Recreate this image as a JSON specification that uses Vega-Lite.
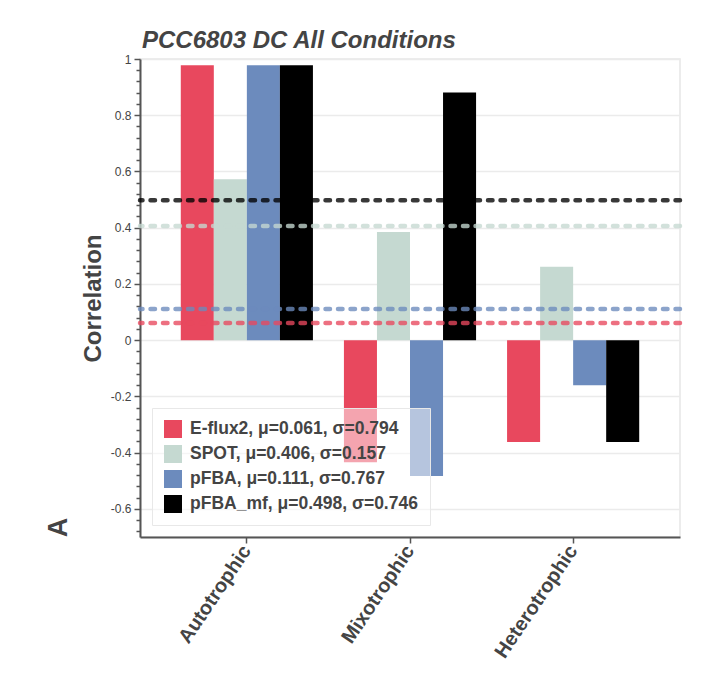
{
  "$schema": "https://vega.github.io/schema/vega-lite/v6.json",
  "width": 540,
  "height": 478,
  "autosize": "none",
  "padding": {"left": 140, "top": 59, "right": 34, "bottom": 136},
  "background": "white",
  "title": {
    "text": "PCC6803 DC All Conditions",
    "anchor": "start",
    "frame": "group",
    "font": "Liberation Sans",
    "fontSize": 24,
    "fontWeight": "bold",
    "fontStyle": "italic",
    "color": "#444444",
    "baseline": "alphabetic",
    "offset": 11,
    "dx": 2,
    "dy": 30
  },
  "config": {
    "font": "Liberation Sans",
    "view": {"stroke": "#e6e6e6", "strokeWidth": 1.5}
  },
  "datasets": {
    "bars": [
      {"condition": "Autotrophic", "method": "E-flux2", "value": 0.978},
      {"condition": "Autotrophic", "method": "SPOT", "value": 0.572},
      {"condition": "Autotrophic", "method": "pFBA", "value": 0.978},
      {"condition": "Autotrophic", "method": "pFBA_mf", "value": 0.978},
      {"condition": "Mixotrophic", "method": "E-flux2", "value": -0.434},
      {"condition": "Mixotrophic", "method": "SPOT", "value": 0.385},
      {"condition": "Mixotrophic", "method": "pFBA", "value": -0.483},
      {"condition": "Mixotrophic", "method": "pFBA_mf", "value": 0.881},
      {"condition": "Heterotrophic", "method": "E-flux2", "value": -0.362},
      {"condition": "Heterotrophic", "method": "SPOT", "value": 0.261},
      {"condition": "Heterotrophic", "method": "pFBA", "value": -0.16},
      {"condition": "Heterotrophic", "method": "pFBA_mf", "value": -0.362}
    ],
    "means": [
      {"method": "E-flux2", "mean": 0.061},
      {"method": "SPOT", "mean": 0.406},
      {"method": "pFBA", "mean": 0.111},
      {"method": "pFBA_mf", "mean": 0.498}
    ]
  },
  "layer": [
    {
      "data": {"name": "bars"},
      "mark": {"type": "bar"},
      "encoding": {
        "x": {
          "field": "condition",
          "type": "nominal",
          "sort": ["Autotrophic", "Mixotrophic", "Heterotrophic"],
          "scale": {"paddingInner": 0.19, "paddingOuter": 0.25},
          "axis": {
            "title": null,
            "grid": false,
            "domainColor": "#555555",
            "domainWidth": 2,
            "tickColor": "#555555",
            "tickSize": 6,
            "tickWidth": 1.5,
            "labelAngle": -56,
            "labelAlign": "right",
            "labelBaseline": "middle",
            "labelFontSize": 20,
            "labelFontWeight": "bold",
            "labelColor": "#444444",
            "labelPadding": 4
          }
        },
        "xOffset": {
          "field": "method",
          "type": "nominal",
          "sort": ["E-flux2", "SPOT", "pFBA", "pFBA_mf"],
          "scale": {"paddingInner": 0, "paddingOuter": 0}
        },
        "y": {
          "field": "value",
          "type": "quantitative",
          "scale": {"domain": [-0.7, 1], "nice": false, "zero": false},
          "axis": {
            "values": [-0.6, -0.4, -0.2, 0, 0.2, 0.4, 0.6, 0.8, 1],
            "labelExpr": "'' + datum.value",
            "grid": true,
            "gridColor": "#ebebeb",
            "gridWidth": 1.5,
            "domainColor": "#555555",
            "domainWidth": 2,
            "tickColor": "#555555",
            "tickSize": 6,
            "tickWidth": 1.5,
            "labelFontSize": 12,
            "labelColor": "#444444",
            "labelPadding": 3,
            "title": "Correlation",
            "titleFontSize": 24,
            "titleFontWeight": "bold",
            "titleColor": "#444444",
            "titlePadding": 5
          }
        },
        "color": {
          "field": "method",
          "type": "nominal",
          "sort": ["E-flux2", "SPOT", "pFBA", "pFBA_mf"],
          "scale": {
            "domain": ["E-flux2", "SPOT", "pFBA", "pFBA_mf"],
            "range": ["#e8485e", "#c5d9d1", "#6c8bbd", "#000000"]
          },
          "legend": {
            "title": null,
            "orient": "bottom-left",
            "offset": 12,
            "fillColor": "rgba(255,255,255,0.5)",
            "strokeColor": "#e8e8e8",
            "padding": 12,
            "symbolType": "square",
            "symbolSize": 324,
            "symbolStrokeWidth": 0,
            "symbolOpacity": 1,
            "labelFontSize": 17.5,
            "labelFontWeight": "bold",
            "labelColor": "#444444",
            "labelOffset": 8,
            "rowPadding": 7,
            "labelLimit": 400,
            "labelExpr": "datum.label == 'E-flux2' ? 'E-flux2, μ=0.061, σ=0.794' : datum.label == 'SPOT' ? 'SPOT, μ=0.406, σ=0.157' : datum.label == 'pFBA' ? 'pFBA, μ=0.111, σ=0.767' : 'pFBA_mf, μ=0.498, σ=0.746'"
          }
        }
      }
    },
    {
      "data": {"name": "means"},
      "mark": {"type": "rule", "strokeWidth": 4.5, "strokeDash": [4.5, 8], "strokeCap": "round", "opacity": 0.78},
      "encoding": {
        "y": {
          "field": "mean",
          "type": "quantitative",
          "axis": {
            "orient": "left",
            "values": [-0.68, -0.64, -0.56, -0.52, -0.48, -0.44, -0.36, -0.32, -0.28, -0.24, -0.16, -0.12, -0.08, -0.04, 0.04, 0.08, 0.12, 0.16, 0.24, 0.28, 0.32, 0.36, 0.44, 0.48, 0.52, 0.56, 0.64, 0.68, 0.72, 0.76, 0.84, 0.88, 0.92, 0.96],
            "labels": false,
            "domain": false,
            "grid": false,
            "tickColor": "#555555",
            "tickSize": 4,
            "tickWidth": 1.5,
            "title": "A",
            "titleFontSize": 27,
            "titleFontWeight": "bold",
            "titleColor": "#444444",
            "titleAngle": -90,
            "titleAlign": "center",
            "titleBaseline": "middle",
            "titleX": -82,
            "titleY": 468
          }
        },
        "stroke": {
          "field": "method",
          "type": "nominal",
          "scale": {
            "domain": ["E-flux2", "SPOT", "pFBA", "pFBA_mf"],
            "range": ["#e8485e", "#c5d9d1", "#6c8bbd", "#000000"]
          },
          "legend": null
        }
      }
    }
  ],
  "resolve": {"axis": {"y": "independent"}}
}
